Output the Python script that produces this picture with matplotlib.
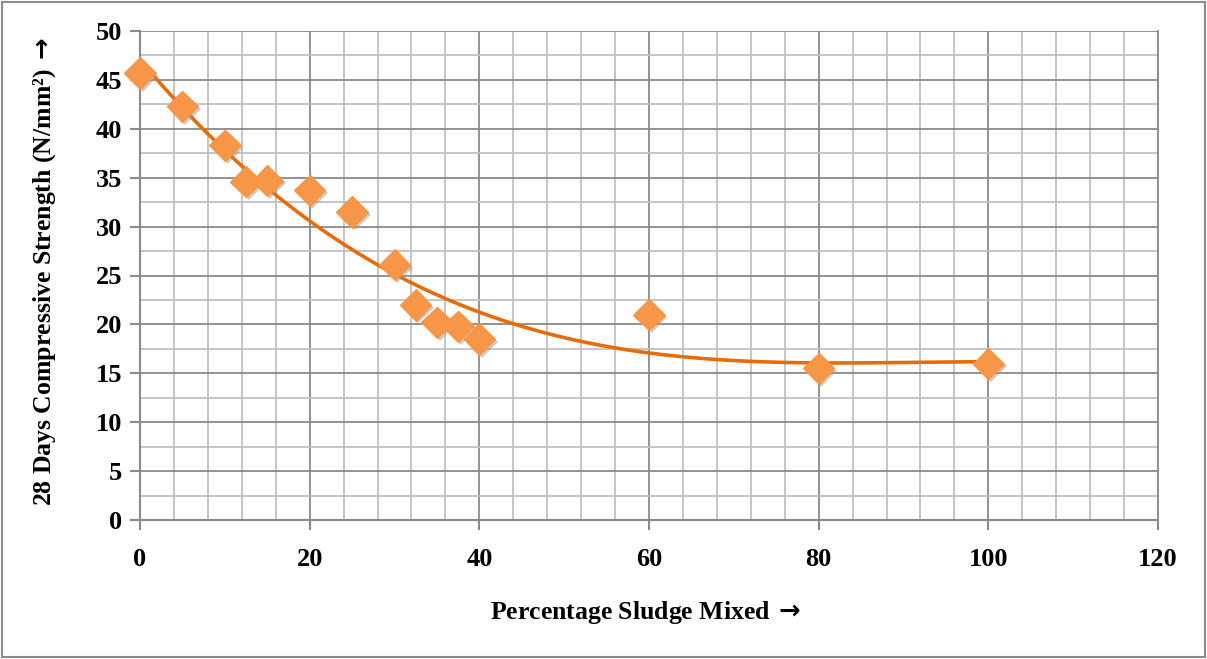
import numpy as np
import matplotlib
matplotlib.use("Agg")
import matplotlib.pyplot as plt
import matplotlib.patheffects as pe
from matplotlib.patches import Rectangle

# ================= DATA =================
sludge_pct = [0, 5, 10, 12.5, 15, 20, 25, 30, 32.5, 35, 37.5, 40, 60, 80, 100]
strength = [45.7, 42.3, 38.3, 34.6, 34.7, 33.7, 31.5, 26.1, 22.0, 20.2, 19.8, 18.5, 21.0, 15.5, 16.0]

x_ticks = [0, 20, 40, 60, 80, 100, 120]
y_ticks = [0, 5, 10, 15, 20, 25, 30, 35, 40, 45, 50]
# ========================================

FONT = ["Liberation Serif", "DejaVu Serif"]
plt.rcParams["font.family"] = FONT
plt.rcParams["mathtext.fontset"] = "dejavusans"

fig = plt.figure(figsize=(12.07, 6.59), dpi=100)
ax = fig.add_axes([140 / 1207, 1 - 520 / 659, (1158 - 140) / 1207, (520 - 31) / 659])

# outer chart border
fig.patches.append(Rectangle((2 / 1207, 2 / 659), 1 - 4 / 1207, 1 - 4 / 659,
                             transform=fig.transFigure, fill=False,
                             edgecolor="#8c8c8c", linewidth=1.5))

ax.set_xlim(0, 120)
ax.set_ylim(0, 50)
ax.set_xticks(x_ticks)
ax.set_yticks(y_ticks)
ax.set_xticks(np.arange(0, 121, 4), minor=True)
ax.set_yticks(np.arange(0, 50.1, 2.5), minor=True)

ax.grid(which="minor", color="#c0c0c0", linewidth=1.3, zorder=0)
ax.grid(which="major", color="#8a8a8a", linewidth=1.3, zorder=0)
ax.set_axisbelow(True)

for side in ["left", "bottom"]:
    ax.spines[side].set_color("#8a8a8a")
    ax.spines[side].set_linewidth(1.5)
ax.spines["top"].set_visible(False)
ax.spines["right"].set_color("#8a8a8a")
ax.spines["right"].set_linewidth(1.3)

ax.tick_params(which="major", length=7, width=1.5, color="#8a8a8a",
               labelsize=19, pad=13)
ax.tick_params(which="minor", length=0)
ax.tick_params(axis="y", pad=6)
for lab in ax.get_xticklabels() + ax.get_yticklabels():
    lab.set_fontweight("bold")

# polynomial trendline (as Excel)
coef = np.polyfit(sludge_pct, strength, 3)
xs = np.linspace(0, 100, 200)
ax.plot(xs, np.polyval(coef, xs), color="#E46C0A", linewidth=2.6, zorder=3)

ax.plot(sludge_pct, strength, linestyle="none", marker="D", markersize=16,
        color="#F79646", markeredgecolor="#F79646", zorder=4, clip_on=False,
        path_effects=[pe.SimplePatchShadow(offset=(2, -2), shadow_rgbFace="#999999", alpha=0.5),
                      pe.Normal()])

fig.text(645 / 1207, 1 - 612 / 659, r"Percentage Sludge Mixed$\,\mathbf{\rightarrow}$",
         ha="center", va="center", fontsize=18.5, fontweight="bold", family=FONT)
fig.text(45 / 1207, 1 - 272 / 659, "28 Days Compressive Strength (N/mm\u00b2)$\\,\\mathbf{\\rightarrow}$",
         ha="center", va="center", rotation=90, fontsize=18.5, fontweight="bold", family=FONT)

fig.savefig("out.png", dpi=100)
